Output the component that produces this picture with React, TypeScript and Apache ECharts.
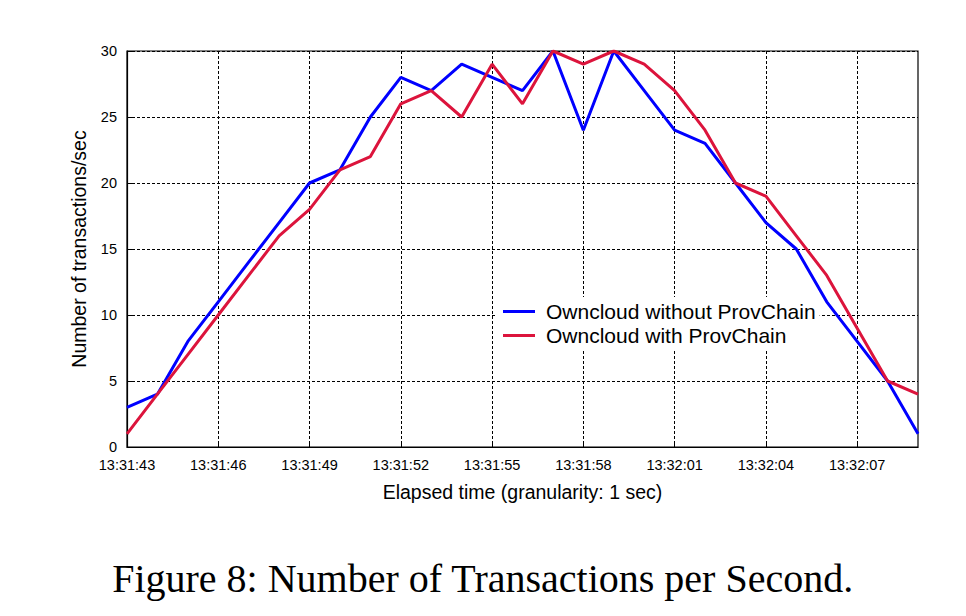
import React, { useEffect, useRef } from "react";
import * as echarts from "echarts";

const categories = [
  "13:31:43", "13:31:44", "13:31:45", "13:31:46", "13:31:47", "13:31:48", "13:31:49",
  "13:31:50", "13:31:51", "13:31:52", "13:31:53", "13:31:54", "13:31:55", "13:31:56",
  "13:31:57", "13:31:58", "13:31:59", "13:32:00", "13:32:01", "13:32:02", "13:32:03",
  "13:32:04", "13:32:05", "13:32:06", "13:32:07", "13:32:08", "13:32:09",
];

const withoutProvChain = [3, 4, 8, 11, 14, 17, 20, 21, 25, 28, 27, 29, 28, 27, 30, 24, 30, 27, 24, 23, 20, 17, 15, 11, 8, 5, 1];
const withProvChain = [1, 4, 7, 10, 13, 16, 18, 21, 22, 26, 27, 25, 29, 26, 30, 29, 30, 29, 27, 24, 20, 19, 16, 13, 9, 5, 4];

const seriesNames = ["Owncloud without ProvChain", "Owncloud with ProvChain"];
const yTicks = { min: 0, max: 30, interval: 5 };

export default function App() {
  const ref = useRef<HTMLDivElement>(null);
  useEffect(() => {
    if (!ref.current) return;
    const chart = echarts.init(ref.current, undefined, { renderer: "svg" });
    const font = "'Liberation Sans', Arial, Helvetica, sans-serif";
    chart.setOption({
      animation: false,
      backgroundColor: "#ffffff",
      grid: {
        left: 127, right: 48, top: 51, bottom: 169,
        show: true, borderColor: "#000", borderWidth: 1.2, backgroundColor: "transparent",
      },
      legend: {
        orient: "vertical",
        left: 495,
        top: 297,
        itemGap: 3,
        itemWidth: 32,
        itemHeight: 3,
        icon: "rect",
        backgroundColor: "#ffffff",
        padding: [4, 4, 4, 8],
        textStyle: { fontFamily: font, fontSize: 21, color: "#000", padding: [0, 0, 0, 6] },
        data: seriesNames,
      },
      xAxis: {
        type: "category",
        data: categories,
        boundaryGap: false,
        name: "Elapsed time (granularity: 1 sec)",
        nameLocation: "middle",
        nameGap: 35,
        nameTextStyle: { fontFamily: font, fontSize: 19.5, color: "#000" },
        axisLine: { show: true, lineStyle: { color: "#000", width: 1.2 } },
        axisTick: { show: true, inside: true, length: 6, interval: 2, lineStyle: { color: "#000" } },
        axisLabel: { interval: 2, fontFamily: font, fontSize: 14.5, color: "#000", margin: 10 },
        splitLine: { show: true, interval: 2, lineStyle: { color: "#000", type: [3, 2], width: 1 } },
      },
      yAxis: {
        type: "value",
        min: yTicks.min,
        max: yTicks.max,
        interval: yTicks.interval,
        name: "Number of transactions/sec",
        nameLocation: "middle",
        nameGap: 38,
        nameTextStyle: { fontFamily: font, fontSize: 19.5, color: "#000" },
        axisLine: { show: true, lineStyle: { color: "#000", width: 1.2 } },
        axisTick: { show: true, inside: true, length: 6, lineStyle: { color: "#000" } },
        axisLabel: { fontFamily: font, fontSize: 14.5, color: "#000", margin: 10 },
        splitLine: { show: true, lineStyle: { color: "#000", type: [3, 2], width: 1 } },
      },
      series: [
        {
          name: seriesNames[0],
          type: "line",
          data: withoutProvChain,
          symbol: "none",
          lineStyle: { color: "#0000ff", width: 3 },
          itemStyle: { color: "#0000ff" },
          z: 3,
        },
        {
          name: seriesNames[1],
          type: "line",
          data: withProvChain,
          symbol: "none",
          lineStyle: { color: "#dc143c", width: 3 },
          itemStyle: { color: "#dc143c" },
          z: 4,
        },
      ],
      graphic: [
        {
          type: "text",
          left: "center",
          top: 558,
          style: {
            text: "Figure 8: Number of Transactions per Second.",
            font: "40px 'Liberation Serif', 'Times New Roman', serif",
            fill: "#000",
          },
        },
      ],
    });
    return () => chart.dispose();
  }, []);
  return <div ref={ref} style={{ width: 966, height: 616, position: "absolute", left: 0, top: 0 }} />;
}
